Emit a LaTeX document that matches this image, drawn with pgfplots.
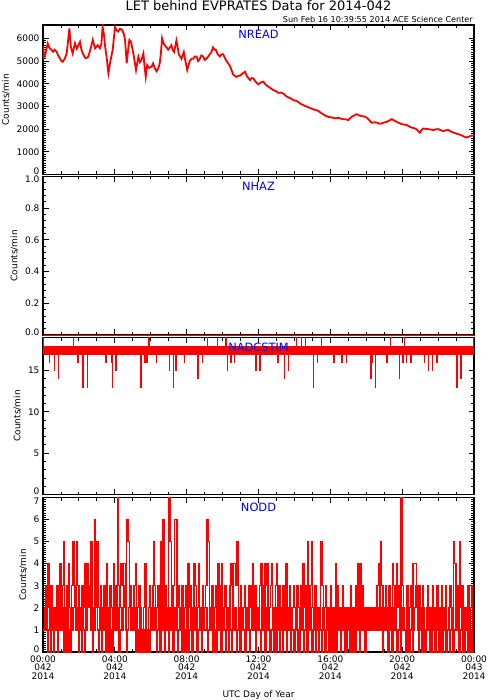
\documentclass[border=0pt]{standalone}
\usepackage{pgfplots}
\pgfplotsset{compat=1.18}
\usepackage{fontspec}
\setmainfont{DejaVu Sans}
\begin{document}
\begin{tikzpicture}
\useasboundingbox (0pt,0pt) rectangle (487pt,-700pt);
\tikzset{plabel/.style={text=blue, anchor=north, font=\fontsize{11.4}{12}\selectfont, inner sep=0pt}}
\newcommand{\up}[1]{\smash{#1}}
\newcommand{\dn}[1]{\smash{\raisebox{-6.5pt}{#1}}}
\pgfplotsset{
  panel/.style={
    scale only axis, width=431pt, anchor=north west,
    xmin=0, xmax=24,
    xtick={0,4,8,12,16,20,24}, minor x tick num=3,
    xticklabels={},
    axis line style={black, line width=1.2pt},
    tick style={black, line width=0.9pt},
    major tick length=5.5pt, minor tick length=3pt,
    tick label style={font=\fontsize{9}{9}\selectfont},
    /pgf/number format/assume math mode=true,
    /pgf/number format/1000 sep={},
    ylabel={Counts/min},
    ylabel style={font=\fontsize{9}{9}\selectfont},
  },
}
% ---------------- NREAD
\begin{axis}[panel, at={(43pt,-25pt)}, height=149.5pt,
  ymin=0, ymax=6590, ytick={0,1000,2000,3000,4000,5000,6000}, minor y tick num=9,
  yticklabels={\up{0},1000,2000,3000,4000,5000,6000},
  extra description/.code={
    \node[anchor=base, font=\fontsize{13}{13}\selectfont, inner sep=0pt] at (0.5,1) [yshift=14.5pt] {LET behind EVPRATES Data for 2014-042};
    \node[anchor=base east, font=\fontsize{8.1}{8}\selectfont, inner sep=0pt] at (1,1) [yshift=2.5pt, xshift=-1pt] {Sun Feb 16 10:39:55 2014 ACE Science Center};
    \node[plabel] at (0.5,1) [yshift=-5pt] {NREAD};
  }]
\addplot[red, line width=1.8pt] coordinates {
(0,5650) (0.06,5190) (0.13,5300) (0.26,5780) (0.37,5560) (0.46,5500) (0.57,5410) (0.65,5500)
(0.76,5410) (0.84,5250) (0.95,5120) (1.02,5000) (1.10,4970) (1.22,5120) (1.32,5340) (1.47,6440)
(1.55,5630) (1.65,5340) (1.78,5780) (1.88,5550) (2.06,5850) (2.14,5500) (2.21,5340) (2.30,5200)
(2.39,5120) (2.52,5190) (2.62,5450) (2.77,5930) (2.90,5560) (3.05,5700) (3.17,5560) (3.25,5750)
(3.32,6500) (3.40,6150) (3.45,5700) (3.55,5120) (3.64,4460) (3.73,4900) (3.88,5490) (4.01,6500)
(4.10,6350) (4.18,6300) (4.28,6420) (4.40,6380) (4.50,6200) (4.57,5930) (4.66,4900) (4.74,5500)
(4.81,5930) (4.90,5850) (5.03,5340) (5.10,5000) (5.18,4600) (5.31,5190) (5.40,4950) (5.48,5050)
(5.59,5340) (5.65,4800) (5.72,4310) (5.80,4820) (5.90,4700) (6.05,4750) (6.13,4900) (6.22,4700)
(6.32,4550) (6.42,4680) (6.50,4900) (6.56,5300) (6.63,6000) (6.70,5800) (6.78,5700) (6.88,5600)
(6.97,5500) (7.06,5600) (7.15,5700) (7.22,5500) (7.30,5400) (7.43,5900) (7.50,5600) (7.56,5300)
(7.64,5200) (7.71,5100) (7.84,5400) (7.93,5000) (8.03,4600) (8.10,4800) (8.17,5000) (8.27,5100)
(8.36,5100) (8.45,5200) (8.55,5200) (8.64,5000) (8.73,5100) (8.82,5250) (8.92,5200) (9.01,5050)
(9.10,5100) (9.20,5200) (9.29,5300) (9.38,5400) (9.47,5600) (9.55,5500) (9.62,5500) (9.73,5300)
(9.85,5200) (9.94,5300) (10.03,5300) (10.12,5150) (10.22,5000) (10.31,4900) (10.40,4800) (10.50,4600)
(10.59,4400) (10.68,4350) (10.77,4300) (10.87,4350) (10.96,4350) (11.10,4450) (11.25,4530) (11.38,4300)
(11.53,4160) (11.62,4250) (11.71,4240) (11.85,4080) (11.99,3970) (12.13,4060) (12.27,4090) (12.41,3950)
(12.55,3870) (12.68,3800) (12.82,3720) (12.96,3680) (13.10,3600) (13.24,3610) (13.38,3570) (13.52,3460)
(13.66,3400) (13.80,3350) (13.94,3280) (14.08,3250) (14.21,3200) (14.35,3110) (14.49,3060) (14.63,3010)
(14.77,2960) (14.91,2920) (15.05,2870) (15.19,2840) (15.33,2800) (15.47,2720) (15.61,2650) (15.75,2580)
(15.89,2540) (16.03,2520) (16.16,2500) (16.30,2470) (16.44,2500) (16.58,2460) (16.72,2440) (16.86,2430)
(17.00,2400) (17.10,2480) (17.19,2540) (17.33,2600) (17.47,2660) (17.61,2600) (17.75,2570) (17.89,2560)
(18.02,2510) (18.16,2400) (18.30,2280) (18.44,2300) (18.58,2290) (18.72,2240) (18.86,2250) (19.00,2300)
(19.14,2320) (19.28,2380) (19.42,2440) (19.56,2380) (19.69,2320) (19.83,2270) (19.97,2220) (20.11,2200)
(20.25,2180) (20.39,2120) (20.53,2070) (20.67,2040) (20.81,1990) (20.90,1900) (20.99,1840) (21.08,1960)
(21.18,2030) (21.31,2010) (21.45,2000) (21.59,1980) (21.73,1960) (21.87,1990) (22.01,2000) (22.15,1950)
(22.29,1910) (22.43,1950) (22.57,1960) (22.70,1900) (22.84,1850) (22.98,1810) (23.12,1780) (23.26,1740)
(23.40,1690) (23.50,1650) (23.59,1630) (23.69,1660) (23.78,1690) (23.87,1710) (24.00,1730)
};
\end{axis}
% ---------------- NHAZ
\begin{axis}[panel, at={(43pt,-176.5pt)}, height=158.5pt, clip=false,
  ymin=0, ymax=1, ytick={0,0.2,0.4,0.6,0.8,1}, minor y tick num=4,
  yticklabels={\up{0.0},0.2,0.4,0.6,0.8,\dn{1.0}},
  extra description/.code={\node[plabel] at (0.5,1) [yshift=-5pt] {NHAZ};}]
\addplot[red, line width=1pt] coordinates {(0,0) (24,0)};
\end{axis}
% ---------------- NADCSTIM
\begin{axis}[panel, at={(43pt,-337.5pt)}, height=157pt,
  ymin=0, ymax=19, ytick={0,5,10,15}, minor y tick num=4,
  yticklabels={\up{0},5,10,15},
  extra description/.code={\node[plabel] at (0.5,1) [yshift=-5pt] {NADCSTIM};}]
\addplot[fill=red, draw=none] coordinates {(0,17) (24,17) (24,18) (0,18)} -- cycle;
\addplot[red, const plot, line width=0.8pt] coordinates {
(0,19) (0.03,17) (0.33,16) (0.36,17) (0.63,15) (0.66,17) (0.85,14) (0.88,17)
(1.67,19) (1.70,17) (1.93,16) (1.96,17) (2.21,13) (2.24,17) (2.47,13) (2.50,17)
(3.49,16) (3.52,17) (3.79,16) (3.82,17) (3.84,13) (3.87,17) (4.05,15) (4.08,17)
(5.44,13) (5.47,17) (5.62,16) (5.65,17) (5.72,16) (5.75,17) (5.79,16) (5.82,17)
(5.87,19) (5.90,17) (6.31,16) (6.34,17) (7.03,15) (7.06,17) (7.24,13) (7.27,17)
(7.39,15) (7.42,17) (7.85,16) (7.88,17) (8.61,14) (8.64,17) (8.85,16) (8.88,17)
(9.13,19) (9.16,17) (9.69,19) (9.72,17) (10.18,19) (10.21,17) (10.26,15) (10.29,17)
(10.45,16) (10.48,17) (10.65,16) (10.68,17) (11.84,15) (11.87,17) (12.06,15) (12.09,17)
(13.08,16) (13.11,17) (13.42,14) (13.45,17) (13.66,15) (13.69,17) (14.09,19) (14.12,17)
(14.37,19) (14.40,17) (14.60,19) (14.63,17) (15.03,13) (15.06,17) (15.27,16) (15.30,17)
(15.48,19) (15.51,17) (16.19,16) (16.22,17) (16.63,16) (16.66,17) (16.87,16) (16.90,17)
(18.24,14) (18.27,17) (18.30,16) (18.33,17) (18.49,13) (18.52,17) (19.14,16) (19.17,17)
(19.32,19) (19.35,17) (19.82,14) (19.85,17) (20.03,16) (20.06,17) (20.10,19) (20.13,17)
(20.21,16) (20.24,17) (20.47,16) (20.50,17) (21.21,16) (21.24,17) (21.45,15) (21.48,17)
(21.68,15) (21.71,17) (21.92,16) (21.95,17) (23.03,13) (23.06,17) (23.27,14) (23.30,17)
(23.94,19) (24,19)
};
\end{axis}
% ---------------- NODD
\begin{axis}[panel, at={(43pt,-497.5pt)}, height=154.5pt,
  ymin=0, ymax=7, ytick={0,1,2,3,4,5,6,7}, minor y tick num=9,
  yticklabels={\up{0},1,2,3,4,5,6,\dn{7}},
  xticklabels={{00:00\\042\\2014},{04:00\\042\\2014},{08:00\\042\\2014},{12:00\\042\\2014},{16:00\\042\\2014},{20:00\\042\\2014},{00:00\\043\\2014}},
  xticklabel style={align=center, font=\fontsize{9}{8.7}\selectfont},
  xlabel={UTC Day of Year}, xlabel style={font=\fontsize{9}{9}\selectfont, yshift=-4pt},
  extra description/.code={\node[plabel] at (0.5,1) [yshift=-5pt] {NODD};}]
% minutes at even 4-minute marks
\addplot[red, const plot, line width=1.2pt] table[row sep=\\, header=false, x expr=\coordindex/15, y index=0] {
1\\2\\3\\1\\4\\2\\0\\3\\1\\2\\1\\3\\0\\2\\4\\
2\\3\\5\\1\\2\\0\\4\\2\\1\\3\\5\\2\\1\\5\\3\\
1\\2\\0\\3\\2\\4\\1\\4\\2\\3\\5\\1\\2\\6\\3\\
5\\2\\1\\3\\0\\2\\3\\1\\4\\2\\0\\3\\2\\1\\4\\
2\\1\\7\\3\\2\\4\\3\\4\\4\\1\\6\\5\\2\\3\\1\\
2\\3\\4\\1\\2\\3\\0\\1\\0\\2\\4\\1\\0\\2\\3\\
2\\1\\5\\3\\1\\2\\3\\1\\5\\2\\6\\1\\3\\2\\1\\
7\\5\\2\\1\\3\\6\\6\\2\\3\\1\\2\\3\\0\\2\\3\\
1\\4\\2\\3\\1\\2\\4\\3\\1\\2\\4\\2\\1\\3\\2\\
2\\3\\6\\5\\1\\2\\3\\0\\2\\3\\1\\4\\2\\1\\4\\
1\\2\\3\\1\\2\\0\\3\\4\\2\\4\\4\\3\\5\\2\\1\\
3\\1\\2\\3\\0\\2\\1\\3\\2\\1\\4\\2\\3\\1\\2\\
2\\3\\4\\1\\2\\4\\3\\4\\1\\2\\3\\4\\2\\0\\3\\
4\\2\\3\\1\\2\\0\\3\\2\\4\\1\\2\\3\\1\\2\\3\\
2\\1\\3\\2\\0\\3\\1\\4\\2\\3\\1\\5\\2\\3\\5\\
2\\1\\3\\2\\1\\0\\2\\5\\3\\1\\2\\3\\2\\1\\2\\
3\\2\\1\\0\\4\\2\\3\\1\\2\\1\\3\\2\\0\\1\\2\\
1\\2\\3\\0\\2\\1\\3\\2\\4\\1\\4\\2\\3\\1\\0\\
2\\1\\2\\1\\2\\1\\2\\2\\1\\3\\4\\2\\5\\3\\1\\
2\\3\\1\\0\\3\\2\\1\\4\\3\\1\\4\\2\\3\\1\\7\\
3\\2\\1\\0\\3\\1\\2\\3\\1\\4\\4\\4\\2\\1\\3\\
2\\1\\3\\0\\1\\2\\3\\1\\0\\2\\3\\1\\2\\0\\3\\
1\\2\\0\\3\\1\\2\\3\\0\\1\\2\\3\\1\\2\\5\\4\\
2\\3\\1\\5\\2\\3\\1\\0\\2\\1\\3\\0\\2\\3\\0\\
0\\
};
% minutes in between (offset by 2 minutes)
\addplot[red, const plot, line width=1.2pt] table[row sep=\\, header=false, x expr=\coordindex/15+1/30, y index=0] {
2\\1\\2\\0\\1\\3\\1\\2\\0\\1\\2\\1\\3\\1\\2\\
1\\2\\0\\1\\3\\2\\1\\0\\2\\1\\2\\3\\1\\2\\0\\
2\\1\\3\\1\\0\\2\\1\\2\\3\\1\\2\\0\\1\\3\\2\\
1\\0\\2\\1\\2\\1\\3\\0\\2\\1\\2\\1\\0\\2\\1\\
3\\1\\2\\0\\1\\2\\1\\3\\2\\0\\1\\2\\3\\1\\2\\
1\\2\\0\\1\\0\\1\\2\\0\\1\\0\\2\\0\\1\\0\\2\\
1\\3\\1\\2\\0\\1\\2\\0\\2\\1\\3\\0\\1\\2\\0\\
2\\1\\3\\0\\2\\1\\2\\0\\1\\2\\0\\1\\2\\1\\0\\
2\\0\\1\\2\\0\\3\\1\\2\\0\\1\\2\\1\\0\\2\\1\\
1\\2\\0\\1\\2\\1\\0\\2\\1\\0\\2\\1\\3\\0\\2\\
2\\1\\0\\2\\1\\3\\1\\0\\2\\1\\2\\0\\1\\2\\0\\
1\\2\\1\\0\\2\\1\\2\\0\\1\\3\\1\\2\\0\\1\\2\\
1\\0\\2\\1\\3\\0\\2\\1\\2\\0\\1\\2\\1\\2\\0\\
2\\1\\0\\2\\1\\3\\1\\2\\0\\1\\2\\0\\2\\1\\0\\
1\\2\\0\\1\\2\\1\\2\\0\\1\\2\\0\\2\\1\\2\\0\\
1\\2\\0\\2\\1\\2\\1\\0\\2\\1\\0\\2\\1\\0\\2\\
0\\1\\2\\1\\0\\2\\1\\2\\0\\1\\2\\1\\2\\0\\1\\
2\\0\\1\\2\\1\\0\\2\\1\\2\\0\\1\\3\\1\\2\\1\\
1\\2\\1\\2\\1\\2\\1\\1\\2\\1\\2\\1\\2\\0\\1\\
1\\2\\0\\1\\2\\1\\0\\2\\1\\2\\0\\1\\2\\0\\1\\
2\\1\\0\\1\\2\\0\\1\\2\\0\\1\\2\\3\\1\\0\\2\\
1\\0\\2\\1\\0\\1\\2\\0\\1\\0\\2\\1\\0\\1\\2\\
0\\1\\2\\0\\1\\2\\0\\1\\2\\0\\1\\2\\0\\1\\2\\
1\\2\\0\\1\\2\\0\\1\\2\\1\\0\\2\\1\\0\\2\\2\\
};
\end{axis}
\end{tikzpicture}
\end{document}
